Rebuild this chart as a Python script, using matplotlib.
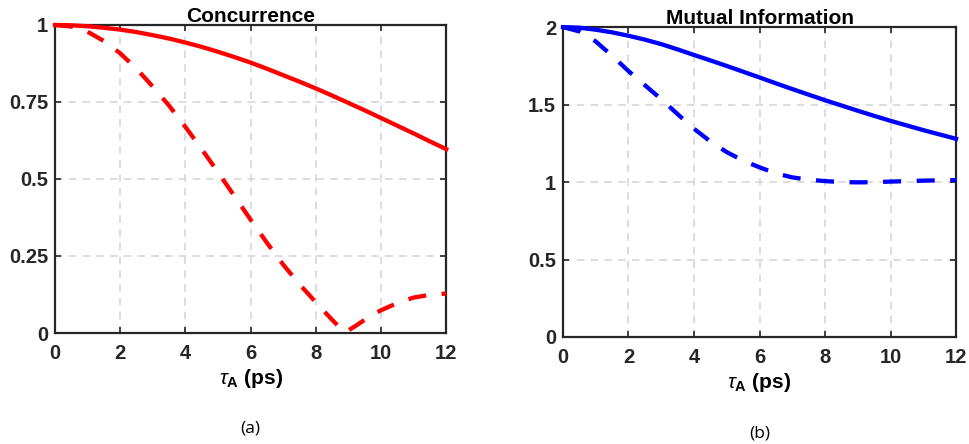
import matplotlib
matplotlib.use("Agg")
import matplotlib.pyplot as plt

plt.rcParams['font.family'] = ['Liberation Sans', 'DejaVu Sans']
plt.rcParams['mathtext.fontset'] = 'custom'
plt.rcParams['mathtext.rm'] = 'Liberation Sans'
plt.rcParams['mathtext.it'] = 'Liberation Sans:italic'
plt.rcParams['mathtext.bf'] = 'Liberation Sans:bold'

# delay time tau_A (ps), half-picosecond steps
tau = [0, 0.5, 1, 1.5, 2, 2.5, 3, 3.5, 4, 4.5, 5, 5.5, 6, 6.5, 7, 7.5, 8,
       8.5, 9, 9.5, 10, 10.5, 11, 11.5, 12]

# Concurrence
conc_solid = [1.000, 0.999, 0.996, 0.991, 0.985, 0.977, 0.967, 0.956, 0.943,
              0.929, 0.913, 0.896, 0.878, 0.858, 0.837, 0.816, 0.794, 0.771,
              0.747, 0.723, 0.698, 0.673, 0.648, 0.622, 0.597]
tau_dash_c = [0, 0.5, 1, 1.5, 2, 2.5, 3, 3.5, 4, 4.5, 5, 5.5, 6, 6.5, 7, 7.5,
              8, 8.25, 8.5, 8.75, 8.9, 9.25, 9.5, 10, 10.5, 11, 11.5, 12]
conc_dash = [1.000, 0.995, 0.978, 0.948, 0.908, 0.858, 0.800, 0.738, 0.669,
             0.597, 0.522, 0.445, 0.368, 0.293, 0.222, 0.158, 0.100, 0.071,
             0.043, 0.016, 0.002, 0.025, 0.043, 0.074, 0.097, 0.115, 0.124, 0.128]

# Mutual information
mi_solid = [2.000, 1.996, 1.983, 1.966, 1.944, 1.919, 1.890, 1.856, 1.820,
            1.785, 1.749, 1.712, 1.675, 1.637, 1.600, 1.564, 1.528, 1.494,
            1.460, 1.427, 1.395, 1.365, 1.335, 1.307, 1.279]
mi_dash = [2.000, 1.972, 1.907, 1.815, 1.716, 1.625, 1.535, 1.438, 1.344,
           1.262, 1.193, 1.138, 1.095, 1.056, 1.030, 1.015, 1.006, 1.000,
           0.998, 0.999, 1.003, 1.006, 1.009, 1.011, 1.012]

xticks = [0, 2, 4, 6, 8, 10, 12]
c_yticks = [0, 0.25, 0.5, 0.75, 1]
c_yticklabels = ['0', '0.25', '0.5', '0.75', '1']
m_yticks = [0, 0.5, 1, 1.5, 2]
m_yticklabels = ['0', '0.5', '1', '1.5', '2']

fig = plt.figure(figsize=(9.7, 4.44), dpi=100)
ax1 = fig.add_axes([0.0567, 0.25, 0.4033, 0.6937])
ax2 = fig.add_axes([0.5804, 0.241, 0.4052, 0.698])

spine_col = '#262626'
lw = 3.1
dash = (4.2, 3.6)
tick_fs = 14.5


def style(ax, yticks, ylabels, ylim, title, tag):
    ax.set_xlim(0, 12)
    ax.set_ylim(*ylim)
    ax.set_xticks(xticks)
    ax.set_xticklabels([str(t) for t in xticks], fontsize=tick_fs, fontweight='bold')
    ax.set_yticks(yticks)
    ax.set_yticklabels(ylabels, fontsize=tick_fs, fontweight='bold')
    ax.tick_params(direction='in', length=4, width=1.2, colors=spine_col,
                   top=True, right=True)
    ax.tick_params(axis='x', pad=8)
    ax.tick_params(axis='y', pad=5)
    for s in ax.spines.values():
        s.set_color(spine_col)
        s.set_linewidth(1.6)
    ax.grid(True, color='#d3d3d3', linestyle=(0, (5, 4)), linewidth=1.1)
    ax.set_axisbelow(True)
    ax.set_title(title, fontsize=15, fontweight='bold', pad=2)
    ax.set_xlabel(r'$\mathit{\tau}_{\mathbf{A}}$ (ps)', fontsize=15,
                  fontweight='bold', labelpad=3)
    ax.text(0.5, -0.31, tag, transform=ax.transAxes, ha='center', va='center',
            fontsize=12.5, family=['Open Sans', 'DejaVu Sans'])


style(ax1, c_yticks, c_yticklabels, (0, 1), 'Concurrence', '(a)')
ax1.plot(tau, conc_solid, color='#ff0000', lw=lw, clip_on=False, zorder=3)
ax1.plot(tau_dash_c, conc_dash, color='#ff0000', lw=lw, dashes=dash,
         dash_capstyle='butt', clip_on=False, zorder=3)

style(ax2, m_yticks, m_yticklabels, (0, 2), 'Mutual Information', '(b)')
ax2.plot(tau, mi_solid, color='#0000ff', lw=lw, clip_on=False, zorder=3)
ax2.plot(tau, mi_dash, color='#0000ff', lw=lw, dashes=dash,
         dash_capstyle='butt', clip_on=False, zorder=3)

fig.savefig('out.png', dpi=100, facecolor='white')
